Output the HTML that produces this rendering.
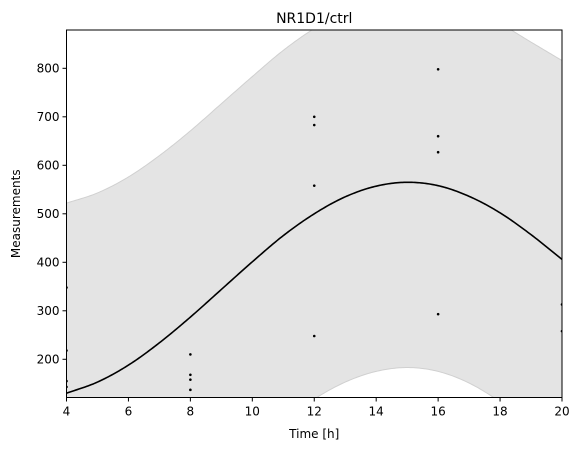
<!DOCTYPE html>
<html><head><meta charset="utf-8"><style>
html,body{margin:0;padding:0;background:#fff;width:580px;height:453px;overflow:hidden}
svg{display:block;position:absolute;left:0;top:0}
svg text{font-family:"DejaVu Sans","Liberation Sans",sans-serif;fill:#000}
</style></head><body>
<svg id="chart" width="580" height="453"></svg>
<script>
const fitTimes=[4,5,6,7,8,9,10,11,12,13,14,15,16,17,18,19,20];
const fitValues=[130,153,188,234,287,344,401,455,500,535,557,565,558,536,502,457,406];
const bandHalfWidth=[392,390,388,386,384,383,382,382,382,382,382,382,383,385,390,397,410];
const pointTimes=[4,4,4,4,8,8,8,8,12,12,12,12,16,16,16,16,20,20];
const pointValues=[348,218,155,143,210,168,158,137,700,683,558,248,798,660,627,293,313,258];
const xTicks=[4,6,8,10,12,14,16,18,20];
const yTicks=[200,300,400,500,600,700,800];
const NS='http://www.w3.org/2000/svg';
const svg=document.getElementById('chart');
const L=66.5,R=562,T=30,B=397.5,xmin=4,xmax=20,ymin=121.2,ymax=879;
const X=v=>L+(v-xmin)/(xmax-xmin)*(R-L);
const Y=v=>B-(v-ymin)/(ymax-ymin)*(B-T);
function mk(tag,attrs,parent){const e=document.createElementNS(NS,tag);for(const k in attrs)e.setAttribute(k,attrs[k]);(parent||svg).appendChild(e);return e;}
const defs=mk('defs',{});const cp=mk('clipPath',{id:'clip'},defs);mk('rect',{x:L,y:T,width:R-L,height:B-T},cp);
const g=mk('g',{'clip-path':'url(#clip)'});


function at(arr,k){const n=arr.length;if(k<0)return 2*arr[0]-arr[1];if(k>n-1)return 2*arr[n-1]-arr[n-2];return arr[k];}
function interp(arr,t){const x=t-fitTimes[0];let i=Math.floor(x);if(i>arr.length-2)i=arr.length-2;if(i<0)i=0;const f=x-i;const p0=at(arr,i-1),p1=at(arr,i),p2=at(arr,i+1),p3=at(arr,i+2);return 0.5*((2*p1)+(-p0+p2)*f+(2*p0-5*p1+4*p2-p3)*f*f+(-p0+3*p1-3*p2+p3)*f*f*f);}
const up=[],lo=[],mid=[];
for(let k=0;k<=320;k++){const t=4+k*0.05;const m=interp(fitValues,t),h=interp(bandHalfWidth,t);mid.push([X(t),Y(m)]);up.push([X(t),Y(m+h)]);lo.push([X(t),Y(m-h)]);}
const pts=a=>a.map(p=>p[0].toFixed(2)+','+p[1].toFixed(2)).join(' ');
const band=mk('polygon',{points:pts(up)+' '+pts(lo.slice().reverse()),fill:'#e4e4e4',stroke:'none'},g);


const ub=mk('polyline',{points:pts(up),fill:'none',stroke:'#d0d0d0','stroke-width':1},g);


const lb=mk('polyline',{points:pts(lo),fill:'none',stroke:'#d0d0d0','stroke-width':1},g);


const fit=mk('polyline',{points:pts(mid),fill:'none',stroke:'#000','stroke-width':1.6,'stroke-linejoin':'round'},g);


pointTimes.forEach((t,i)=>{const c=mk('circle',{cx:X(t),cy:Y(pointValues[i]),r:1.3,fill:'#000'},g);

});
const frame=mk('rect',{x:L,y:T,width:R-L,height:B-T,fill:'none',stroke:'#000','stroke-width':1});


xTicks.forEach(v=>{mk('line',{x1:X(v),x2:X(v),y1:B,y2:B+4,stroke:'#000'});
const t=mk('text',{x:X(v),y:B+18,'text-anchor':'middle','font-size':12});t.textContent=v;

});
yTicks.forEach(v=>{mk('line',{x1:L-4,x2:L,y1:Y(v),y2:Y(v),stroke:'#000'});
const t=mk('text',{x:L-7,y:Y(v)+4.3,'text-anchor':'end','font-size':12});t.textContent=v;

});
const title=mk('text',{x:(L+R)/2,y:23,'text-anchor':'middle','font-size':14});title.textContent='NR1D1/ctrl';


const xl=mk('text',{x:(L+R)/2,y:438,'text-anchor':'middle','font-size':12});xl.textContent='Time [h]';


const yl=mk('text',{x:0,y:0,'text-anchor':'middle','font-size':12,transform:`translate(20,${(T+B)/2}) rotate(-90)`});yl.textContent='Measurements';


</script>
</body></html>
